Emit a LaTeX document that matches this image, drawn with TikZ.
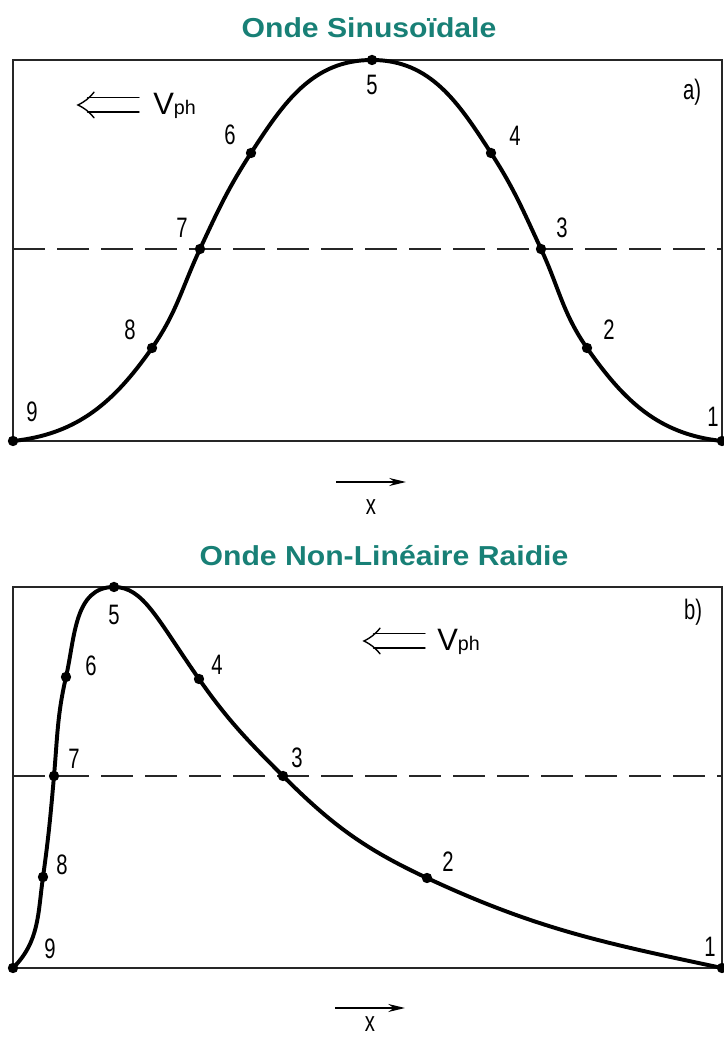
\documentclass[tikz,border=0pt]{standalone}
\usepackage{fontspec}
\setmainfont{Liberation Sans}
\newfontfamily\narrowfont[FakeStretch=0.72]{Liberation Sans}
\newfontfamily\titlefont[FakeStretch=1.1]{Liberation Sans}
\usetikzlibrary{arrows.meta}
\definecolor{titleteal}{RGB}{24,128,118}
\tikzset{
  frame/.style={black!85,line width=1.3pt},
  level/.style={black!85,line width=1pt,dash pattern=on 0.8cm off 0.3cm},
  wave/.style={black,line width=2.8pt,line cap=round},
  num/.style={font=\narrowfont\fontsize{20}{24}\selectfont,inner sep=0pt},
  paneltitle/.style={font=\titlefont\bfseries\fontsize{19.5}{23}\selectfont,text=titleteal,inner sep=0pt},
  vel/.style={font=\fontsize{22}{26}\selectfont,inner sep=0pt},
  velline/.style={line width=1pt,line cap=round},
  xarrow/.style={line width=1pt,-{Stealth[length=0.42cm,width=0.2cm]}}
}
\begin{document}
\begin{tikzpicture}[x=0.025cm,y=0.025cm]
  \useasboundingbox (0,0) rectangle (723,1038);
  % a) sinusoidal wave
  \node[paneltitle] (title-a) at (369,1010) {Onde Sinusoïdale};
  \draw[frame] (13,597) rectangle (722,978);
  \draw[level] (13,789) -- (722,789);
  \coordinate (a9) at (13,597);
  \coordinate (a8) at (152,690);
  \coordinate (a7) at (200,789);
  \coordinate (a6) at (251,885);
  \coordinate (a5) at (372,978);
  \coordinate (a4) at (491,885);
  \coordinate (a3) at (541,789);
  \coordinate (a2) at (587,690);
  \coordinate (a1) at (722,597);
  \draw[wave] (a9) to[out=6,in=235] (a8) to[out=55,in=245] (a7)
    to[out=65,in=237] (a6) to[out=57,in=180] (a5)
    to[out=0,in=123] (a4) to[out=-57,in=115] (a3)
    to[out=-65,in=125] (a2) to[out=-55,in=174] (a1);
  \foreach \n in {1,...,9}
    \fill (a\n) circle (0.13cm);
  \foreach \n/\xp/\yp in {9/32/626,8/130/708,7/182/810,6/230/903,5/372/953,
                          4/515/902,3/562/810,2/609/708,1/713/621}
    \node[num] (la\n) at (\xp,\yp) {\n};
  \node[num] (tag-a) at (692,946) {a)};
  \node[vel,anchor=base west] (vph-a) at (153,923) {V\fontsize{14}{16}\selectfont ph};
  \coordinate (va-tip) at (78,933);
  \coordinate (va-end) at (139,933);
  \draw[velline] ([shift={(0.24cm,0.18cm)}]va-tip) -- ([yshift=0.18cm]va-end);
  \draw[velline] ([shift={(0.24cm,-0.18cm)}]va-tip) -- ([yshift=-0.18cm]va-end);
  \draw[velline] ([shift={(0.4cm,0.32cm)}]va-tip) to[bend left=12] (va-tip)
    to[bend left=12] ([shift={(0.4cm,-0.32cm)}]va-tip);
  \coordinate (xa-s) at (336,556);
  \coordinate (xa-e) at (406,556);
  \draw[xarrow] (xa-s) -- (xa-e);
  \node[num] (xlab-a) at (371,531) {x};
  % b) steep non-linear wave
  \node[paneltitle] (title-b) at (384,482) {Onde Non-Linéaire Raidie};
  \draw[frame] (13,70) rectangle (722,451);
  \draw[level] (13,262) -- (722,262);
  \coordinate (b9) at (13,70);
  \coordinate (b8) at (43,161);
  \coordinate (b7) at (54,262);
  \coordinate (b6) at (66,361);
  \coordinate (b5) at (114,451);
  \coordinate (b4) at (199,359);
  \coordinate (b3) at (283,262);
  \coordinate (b2) at (427,160);
  \coordinate (b1) at (722,70);
  \draw[wave] (b9) to[out=45,in=262] (b8) to[out=82,in=265] (b7)
    to[out=85,in=257] (b6) to[out=77,in=180] (b5)
    to[out=0,in=125,out looseness=0.6,in looseness=1.5] (b4)
    to[out=-55,in=135] (b3)
    to[out=-45,in=155] (b2) to[out=-25,in=168] (b1);
  \foreach \n in {1,...,9}
    \fill (b\n) circle (0.13cm);
  \foreach \n/\xp/\yp in {9/50/89,8/62/173,7/74/279,6/91/372,5/114/423,
                          4/217/373,3/297/280,2/448/176,1/710/91}
    \node[num] (lb\n) at (\xp,\yp) {\n};
  \node[num] (tag-b) at (693,426) {b)};
  \node[vel,anchor=base west] (vph-b) at (437,387) {V\fontsize{14}{16}\selectfont ph};
  \coordinate (vb-tip) at (364,397);
  \coordinate (vb-end) at (425,397);
  \draw[velline] ([shift={(0.24cm,0.18cm)}]vb-tip) -- ([yshift=0.18cm]vb-end);
  \draw[velline] ([shift={(0.24cm,-0.18cm)}]vb-tip) -- ([yshift=-0.18cm]vb-end);
  \draw[velline] ([shift={(0.4cm,0.32cm)}]vb-tip) to[bend left=12] (vb-tip)
    to[bend left=12] ([shift={(0.4cm,-0.32cm)}]vb-tip);
  \coordinate (xb-s) at (335,30);
  \coordinate (xb-e) at (405,30);
  \draw[xarrow] (xb-s) -- (xb-e);
  \node[num] (xlab-b) at (370,14) {x};
\end{tikzpicture}
\end{document}
